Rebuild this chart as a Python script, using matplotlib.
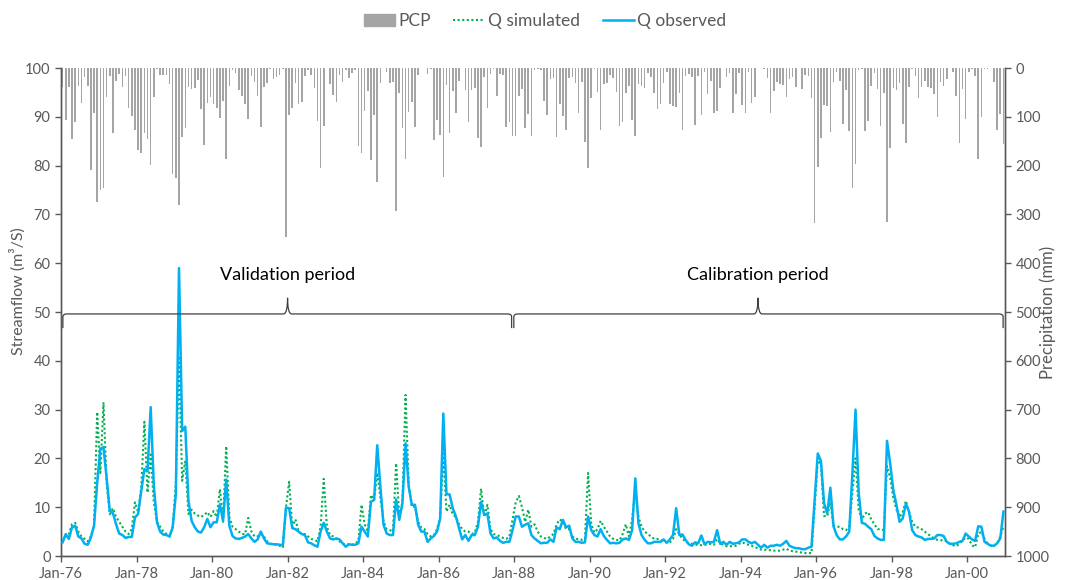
import matplotlib
matplotlib.use("Agg")
import matplotlib.pyplot as plt
from matplotlib.path import Path
from matplotlib.patches import PathPatch
import matplotlib.lines as mlines
import matplotlib.patches as mpatches
import numpy as np

# ---------------- data (monthly, Jan-1976 .. Dec-2000) ----------------
tick_labels = ["Jan-76", "Jan-78", "Jan-80", "Jan-82", "Jan-84", "Jan-86", "Jan-88",
               "Jan-90", "Jan-92", "Jan-94", "Jan-96", "Jan-98", "Jan-00"]
months_per_tick = 24

q_obs = [2.8, 4.5, 3.5, 5.9, 6.2, 4.0, 3.6, 2.5, 2.3, 3.8,
         6.2, 15.0, 22.0, 22.3, 16.0, 9.3, 8.8, 6.5, 4.6, 4.3,
         3.7, 3.9, 3.9, 7.9, 8.6, 13.3, 17.8, 17.4, 30.5, 14.4,
         6.9, 5.0, 4.4, 4.3, 4.0, 5.9, 12.7, 59.0, 25.6, 26.5,
         11.3, 7.2, 5.9, 5.0, 4.8, 5.9, 7.6, 5.9, 6.9, 6.9,
         10.6, 7.2, 15.7, 6.2, 4.1, 3.6, 3.5, 3.7, 4.0, 4.5,
         3.6, 2.9, 3.4, 5.0, 3.6, 2.6, 2.5, 2.4, 2.4, 2.3,
         2.2, 9.9, 9.8, 5.7, 5.5, 5.0, 4.5, 4.3, 2.8, 2.6,
         2.2, 1.9, 5.0, 6.8, 5.0, 3.6, 3.4, 3.6, 3.4, 2.6,
         1.9, 2.4, 2.3, 2.3, 2.6, 6.0, 5.0, 4.0, 11.1, 11.5,
         22.7, 14.2, 6.4, 4.6, 4.3, 4.3, 11.6, 7.4, 10.8, 23.1,
         14.2, 10.5, 10.5, 6.4, 5.0, 5.0, 2.9, 3.6, 4.1,
         5.0, 7.7, 29.2, 12.7, 12.6, 9.8, 8.1, 5.7, 3.4, 4.3,
         3.1, 4.3, 4.3, 6.0, 11.1, 8.4, 8.7, 4.6, 3.6, 3.8,
         3.1, 2.7, 2.9, 2.9, 5.3, 8.1, 8.1, 6.0, 6.4, 6.7,
         4.3, 3.6, 3.1, 2.6, 2.7, 2.7, 3.4, 2.9, 5.9, 5.5,
         7.4, 5.9, 6.2, 3.6, 2.9, 2.9, 2.7, 2.8, 8.1, 5.3,
         4.3, 4.0, 5.5, 4.1, 3.3, 2.6, 2.7, 2.6, 2.7,
         3.4, 3.6, 3.3, 5.3, 15.9, 6.7, 4.3, 3.3, 2.6, 2.6,
         2.9, 2.9, 2.9, 3.4, 2.7, 3.4, 4.3, 9.8, 4.3, 4.4,
         3.3, 2.4, 2.1, 2.8, 2.6, 4.2, 2.4, 2.9, 2.8, 2.9,
         5.3, 2.5, 2.9, 2.3, 2.9, 2.5, 2.6, 2.8, 3.4, 3.4,
         2.9, 2.6, 2.9, 2.3, 1.7, 2.3, 1.7, 2.1, 2.1, 2.3,
         2.1, 2.5, 3.1, 2.1, 1.8, 1.6, 1.6, 1.4, 1.4,
         1.7, 1.9, 11.4, 21.0, 19.5, 10.8, 8.7, 14.0, 6.1, 4.3,
         3.4, 3.4, 4.0, 5.0, 16.9, 30.0, 13.0, 6.8, 6.6, 6.0,
         5.5, 4.1, 3.6, 3.3, 3.3, 23.6, 19.0, 13.5, 10.5, 7.0,
         7.7, 10.7, 9.1, 5.3, 4.3, 4.0, 3.8, 3.3, 3.5, 3.5,
         3.6, 4.3, 4.3, 4.1, 2.9, 2.5, 2.5, 2.6, 2.9, 3.1,
         4.6, 4.0, 3.4, 3.1, 6.1, 6.0, 2.9, 2.5, 2.1, 2.1,
         2.6, 3.6, 9.1]

q_sim = [3.0, 4.0, 4.5, 6.5, 6.8, 5.0, 4.0, 3.5, 3.0, 4.0,
         6.5, 29.5, 17.0, 31.5, 15.0, 8.5, 9.8, 8.0, 7.0, 6.0,
         5.0, 4.5, 5.5, 11.0, 9.0, 14.0, 27.5, 13.0, 20.8, 11.0,
         7.0, 6.0, 5.0, 4.5, 4.0, 6.0, 15.0, 41.0, 15.4, 19.5,
         8.6, 9.5, 8.7, 8.3, 8.0, 8.4, 9.0, 8.0, 9.2, 8.0,
         13.7, 7.0, 22.5, 8.0, 6.0, 5.5, 5.0, 4.5, 4.5, 7.8,
         5.0, 4.0, 4.0, 4.5, 4.0, 3.0, 2.5, 2.4, 2.3, 2.1,
         1.7, 10.0, 15.2, 6.0, 7.5, 5.0, 4.5, 4.5, 4.0, 3.5,
         3.3, 3.0, 6.0, 15.8, 6.0, 4.3, 4.0, 3.5, 3.0, 2.5,
         2.4, 2.4, 2.3, 2.6, 3.0, 10.5, 6.5, 5.0, 12.5, 11.5,
         17.0, 12.0, 7.0, 5.5, 5.3, 5.0, 19.0, 8.0, 11.0, 33.0,
         14.5, 10.0, 10.2, 7.0, 5.8, 5.5, 4.5, 4.0, 4.2,
         5.5, 8.0, 21.0, 9.1, 10.5, 8.5, 8.0, 6.5, 5.5, 5.0,
         5.0, 4.5, 4.8, 7.0, 13.8, 8.0, 10.5, 5.5, 4.5, 4.3,
         4.0, 3.7, 3.5, 4.0, 7.5, 11.0, 12.3, 10.0, 7.0, 9.5,
         6.0, 6.5, 5.0, 4.0, 3.7, 3.5, 4.0, 4.5, 6.5, 7.5,
         7.0, 5.5, 5.5, 4.0, 3.5, 3.5, 3.3, 3.5, 17.0, 6.5,
         4.8, 5.5, 7.2, 6.0, 5.0, 4.0, 3.5, 3.3, 3.2,
         4.5, 6.5, 4.0, 7.5, 13.5, 8.0, 6.0, 5.0, 4.5, 4.0,
         3.5, 3.5, 3.3, 3.0, 2.8, 2.8, 3.5, 5.5, 4.5, 3.5,
         3.0, 2.6, 2.5, 2.3, 2.3, 2.2, 2.3, 2.4, 2.5, 2.3,
         3.5, 2.6, 2.3, 2.0, 2.0, 2.0, 2.1, 2.5, 2.8, 2.5,
         2.3, 2.1, 1.8, 1.6, 1.3, 1.3, 1.2, 1.2, 1.1, 1.1,
         1.1, 1.3, 1.5, 1.1, 1.0, 0.9, 0.8, 0.7, 0.6,
         0.6, 0.6, 10.0, 19.5, 19.0, 8.2, 8.1, 11.0, 6.2, 6.0,
         6.0, 5.5, 5.3, 6.0, 13.0, 20.0, 9.5, 7.5, 8.7, 9.0,
         7.5, 6.5, 5.5, 5.5, 5.3, 18.4, 16.0, 12.0, 9.5, 8.0,
         9.0, 11.3, 9.0, 7.0, 6.0, 5.8, 5.5, 5.0, 4.5, 4.0,
         3.6, 3.3, 3.2, 3.3, 3.0, 2.5, 2.2, 2.0, 2.5, 3.2,
         3.8, 3.5, 2.2, 1.8, 4.5, 5.0, 3.5, 2.5, 2.2, 2.2,
         2.5, 4.0, 6.0]

pcp = [38, 107, 38, 146, 111, 37, 71, 19, 37, 208,
       92, 274, 250, 245, 59, 16, 134, 26, 12, 38,
       16, 81, 98, 128, 168, 175, 134, 145, 199, 60,
       2, 14, 14, 14, 33, 217, 226, 281, 142, 122,
       38, 44, 40, 25, 84, 158, 71, 59, 74, 81,
       102, 67, 187, 36, 4, 11, 45, 57, 74, 105,
       16, 28, 57, 120, 38, 30, 3, 23, 18, 14,
       3, 347, 96, 81, 30, 73, 70, 16, 5,
       14, 40, 108, 204, 118, 1, 33, 55, 69, 14,
       29, 5, 21, 10, 4, 160, 175, 88, 48, 189,
       96, 233, 30, 1, 9, 30, 28, 294, 51, 122,
       187, 91, 69, 120, 14, 0, 1, 12, 3, 148,
       107, 137, 223, 35, 134, 48, 93, 26, 1, 46,
       110, 46, 40, 143, 161, 18, 81, 12, 3, 57,
       12, 14, 120, 111, 139, 139, 57, 43, 122, 94,
       139, 4, 3, 4, 67, 96,
       23, 21, 141, 74, 98, 128, 21, 18, 31, 93,
       28, 151, 204, 62, 2, 50, 128, 33, 30, 14,
       21, 50, 118, 111, 52, 37, 107, 139, 33, 37,
       40, 10, 19, 52, 83, 74, 30, 8, 74, 78,
       79, 52, 128, 16, 12, 19, 117, 16, 96, 8,
       54, 26, 93, 89, 42, 1, 18, 10, 93, 54,
       11, 76, 93, 8, 71, 59, 1, 0, 3, 21,
       93, 48, 28, 33, 35, 60,
       23, 19, 38, 1, 44, 14, 16, 62, 318, 202,
       144, 76, 77, 132, 28, 8, 26, 115, 46, 129,
       245, 197, 4, 3, 129, 109, 37, 11, 44, 118,
       52, 315, 163, 42, 45, 30, 115, 153, 38, 2,
       16, 61, 38, 26, 38, 40, 54, 100, 28, 37,
       23, 1, 8, 57, 153, 44, 105, 8, 2, 16,
       186, 101, 2, 3, 1, 28, 127, 95, 156]

period_labels = ["Validation period", "Calibration period"]
# (start month, end month, tip month) of each period brace
period_spans = [(0.1, 142.7, 71.5), (143.4, 298.9, 221.0)]

# ---------------- figure ----------------
plt.rcParams['font.family'] = ['Lato', 'DejaVu Sans']
GRAY = '#595959'

fig = plt.figure(figsize=(10.69, 5.80), dpi=100)
ax = fig.add_axes([61 / 1069, 1 - 556 / 580, (1005 - 61) / 1069, (556 - 68) / 580])
ax2 = ax.twinx()
ax.set_zorder(ax2.get_zorder() + 1)
ax.patch.set_visible(False)

n = len(q_obs)
x = np.arange(n)

ax2.bar(x, pcp, width=0.5, color='#A5A5A5', linewidth=0)
ax2.set_ylim(1000, 0)

ax.plot(x, q_sim, color='#00B050', ls=(0, (1, 1.2)), lw=1.5, zorder=3)
ax.plot(x, q_obs, color='#00B0F0', lw=1.8, zorder=4)

ax.set_xlim(-0.5, n - 0.5)
ax.set_ylim(0, 100)
ax.set_yticks(np.arange(0, 101, 10))
ax2.set_yticks(np.arange(0, 1001, 100))
ax.set_xticks([i * months_per_tick - 0.5 for i in range(len(tick_labels))])
ax.set_xticklabels(tick_labels)

for a in (ax, ax2):
    a.spines['top'].set_visible(False)
    for s in ('left', 'right', 'bottom'):
        a.spines[s].set_color(GRAY)
        a.spines[s].set_linewidth(1.0)
    a.tick_params(colors=GRAY, labelcolor=GRAY, labelsize=10.5, length=4, width=1)
ax.tick_params(axis='x', pad=4)

ax.set_ylabel("Streamflow (m³/S)", fontsize=11.5, color=GRAY)
ax.yaxis.set_label_coords(-0.037, 0.543)
ax2.set_ylabel("Precipitation (mm)", fontsize=12, color=GRAY)
ax2.yaxis.set_label_coords(1.037, 0.5)


def brace(x0, x1, xm, y, h_end=2.9, h_tip=3.3, rx=1.2, ry=0.6, rt=1.3):
    verts = [(x0, y - h_end), (x0, y - ry), (x0, y), (x0 + rx, y),
             (xm - rt, y), (xm, y), (xm, y + h_tip),
             (xm, y), (xm + rt, y),
             (x1 - rx, y), (x1, y), (x1, y - ry), (x1, y - h_end)]
    codes = [Path.MOVETO, Path.LINETO, Path.CURVE3, Path.CURVE3,
             Path.LINETO, Path.CURVE3, Path.CURVE3,
             Path.CURVE3, Path.CURVE3,
             Path.LINETO, Path.CURVE3, Path.CURVE3, Path.LINETO]
    return PathPatch(Path(verts, codes), fill=False, ec='#404040', lw=0.9, zorder=5)


for (x0, x1, xm), lab in zip(period_spans, period_labels):
    ax.add_patch(brace(x0, x1, xm, 49.6))
    ax.text(xm, 57.6, lab, ha='center', va='center', fontsize=13, color='black')

handles = [mpatches.Patch(color='#A5A5A5', label='PCP'),
           mlines.Line2D([], [], color='#00B050', ls=(0, (1, 1.2)), lw=1.5, label='Q simulated'),
           mlines.Line2D([], [], color='#00B0F0', lw=1.8, label='Q observed')]
fig.legend(handles=handles, loc='center', bbox_to_anchor=(545 / 1069, 1 - 21 / 580), ncol=3,
           frameon=False, fontsize=12.5, labelcolor=GRAY, handlelength=1.8, columnspacing=1.3,
           handletextpad=0.2)

fig.savefig("out.png", dpi=100)
